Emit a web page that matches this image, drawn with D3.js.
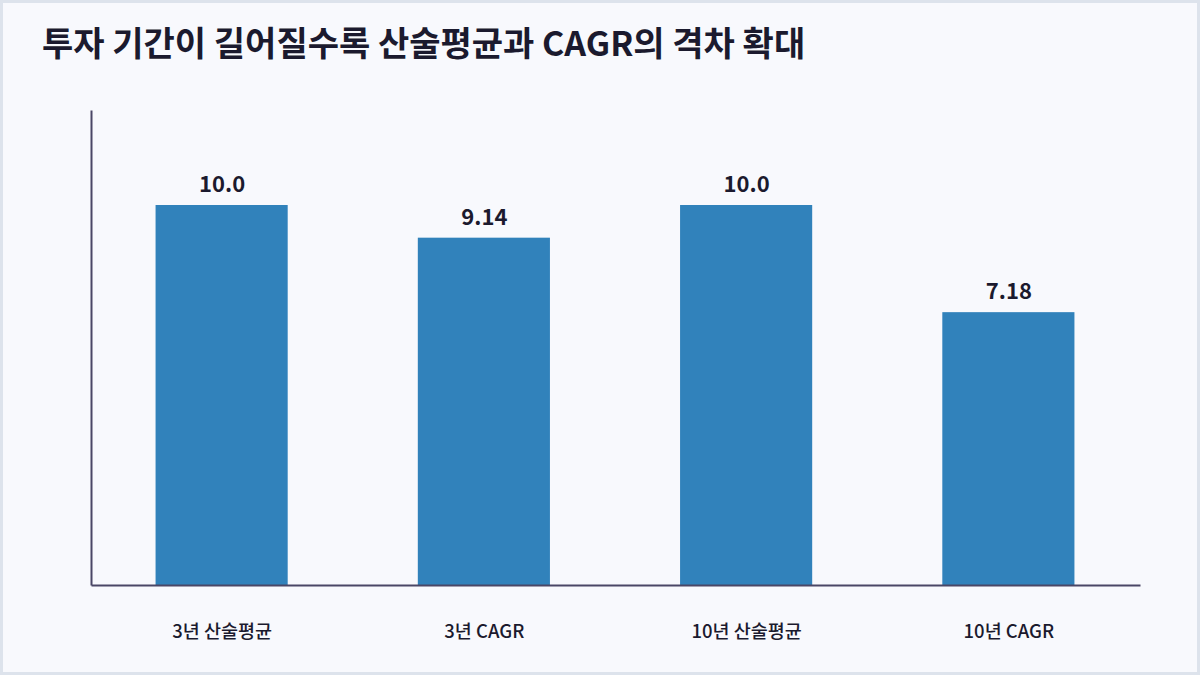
<!DOCTYPE html>
<html>
<head>
<meta charset="utf-8">
<script src="https://cdn.jsdelivr.net/npm/d3@7"></script>
<style>
  html, body { margin: 0; padding: 0; background: #f8f9fd; }
  svg { display: block; }
</style>
</head>
<body>
<script>
const categories = ["3년 산술평균", "3년 CAGR", "10년 산술평균", "10년 CAGR"];
const values = [10.0, 9.14, 10.0, 7.18];
const valueLabels = ["10.0", "9.14", "10.0", "7.18"];
const title = "투자 기간이 길어질수록 산술평균과 CAGR의 격차 확대";

const dims = { w: 1200, h: 675, pl: 91, pr: 60, pt: 110, pb: 90 };
const font = "'Noto Sans CJK KR', 'Noto Sans', sans-serif";

const svg = d3.select("body")
  .append("svg")
  .attr("width", dims.w)
  .attr("height", dims.h);

svg.append("rect")
  .attr("x", 1.5).attr("y", 1.5)
  .attr("width", dims.w - 3).attr("height", dims.h - 3)
  .attr("fill", "#f8f9fd")
  .attr("stroke", "#dde3ec")
  .attr("stroke-width", 3);

svg.append("text")
  .attr("x", 42).attr("y", 56)
  .attr("font-family", font)
  .attr("font-size", 34)
  .attr("font-weight", 700)
  .attr("fill", "#1b1a2e")
  .text(title);

const x = d3.scaleBand()
  .domain(categories)
  .range([dims.pl, dims.w - dims.pr])
  .paddingInner(0.5)
  .paddingOuter(0.25);

const y = d3.scaleLinear()
  .domain([0, d3.max(values) * 1.25])
  .range([dims.h - dims.pb, dims.pt]);

svg.append("g")
  .selectAll("rect")
  .data(values)
  .enter()
  .append("rect")
  .attr("x", (d, i) => x(categories[i]) - 1)
  .attr("y", d => y(d))
  .attr("width", x.bandwidth() + 1)
  .attr("height", d => y(0) - y(d))
  .attr("fill", "#3182bb");

svg.append("g")
  .selectAll("text")
  .data(values)
  .enter()
  .append("text")
  .attr("x", (d, i) => x(categories[i]) + x.bandwidth() / 2)
  .attr("y", d => y(d) - 13)
  .attr("text-anchor", "middle")
  .attr("font-family", font)
  .attr("font-size", 22)
  .attr("font-weight", 700)
  .attr("fill", "#1b1a2e")
  .text((d, i) => valueLabels[i]);

// axes: lines only, labels below
const xAxis = svg.append("g")
  .attr("transform", `translate(0, ${y(0)})`)
  .call(d3.axisBottom(x).tickSize(0).tickPadding(40));
xAxis.select(".domain").attr("stroke", "#4a4766").attr("stroke-width", 2);
xAxis.selectAll("text")
  .attr("font-family", font)
  .attr("font-size", 18.5)
  .attr("font-weight", 500)
  .attr("fill", "#1b1a2e");

const yAxis = svg.append("g")
  .attr("transform", `translate(${dims.pl}, 0)`)
  .call(d3.axisLeft(y).tickValues([]).tickSize(0));
yAxis.select(".domain").attr("stroke", "#4a4766").attr("stroke-width", 2);
</script>
</body>
</html>
